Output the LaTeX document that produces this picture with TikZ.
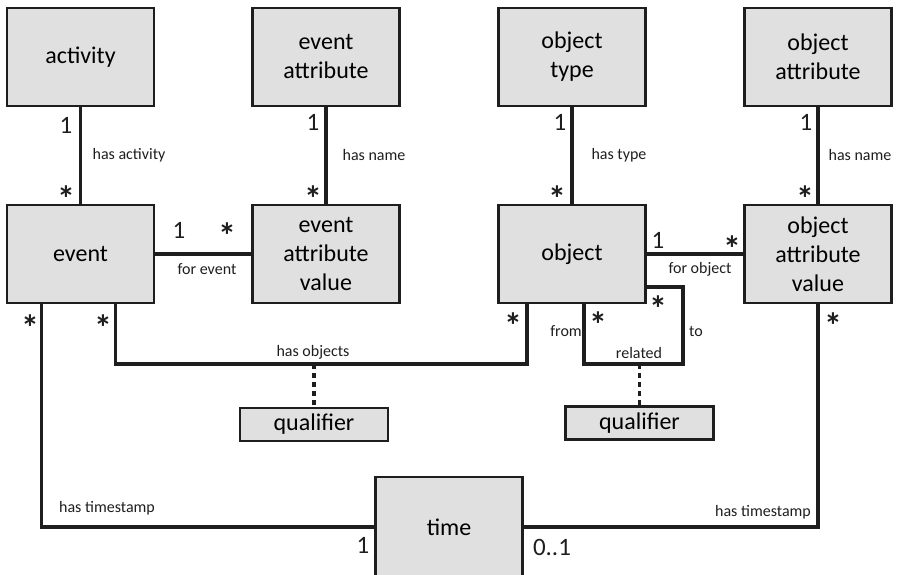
\documentclass[tikz,border=0pt]{standalone}
\usepackage{fontspec}
\setmainfont{Carlito}
\usetikzlibrary{calc}
\definecolor{boxfill}{RGB}{224,224,224}
\definecolor{edge}{RGB}{30,30,30}
\tikzset{
  entity/.style={draw=edge, fill=boxfill, line width=2.8pt, inner sep=0pt,
    minimum width=147pt, minimum height=98pt, align=center,
    font=\fontsize{24}{29}\selectfont},
  qualbox/.style={draw=edge, fill=boxfill, line width=2.8pt, inner sep=0pt,
    minimum width=148pt, minimum height=33pt, font=\fontsize{24}{29}\selectfont},
  conn/.style={draw=edge, line width=3.6pt},
  qualline/.style={draw=edge, line width=3.6pt, dash pattern=on 5pt off 4pt},
  mult/.style={inner sep=0pt, font=\fontsize{25}{30}\selectfont, text=edge},
  star/.style={inner sep=0pt, anchor=base, yshift=-19pt,
    font=\fontsize{36}{40}\selectfont\bfseries, text=edge},
  lbl/.style={inner sep=0pt, font=\fontsize{16}{19}\selectfont, text=edge}
}
\begin{document}
\begin{tikzpicture}[x=1pt,y=-1pt]
\useasboundingbox (0,0) rectangle (897,575);
% entities
\node[entity] (activity) at (80.5,57) {activity};
\node[entity] (evattr) at (326,57) {event\\attribute};
\node[entity] (otype) at (572,57) {object\\type};
\node[entity] (oattr) at (818,57) {object\\attribute};
\node[entity] (event) at (80.5,254) {event};
\node[entity] (eav) at (326,254) {event\\attribute\\value};
\node[entity] (object) at (572,254) {object};
\node[entity] (oav) at (818,254) {object\\attribute\\value};
\node[qualbox] (q1) at (314,424.5) {qualifier};
\node[qualbox] (q2) at (639.5,423) {qualifier};
\node[entity, minimum height=100pt] (time) at (449,527) {time};
% helper coordinates
\coordinate (ho) at (314,364);
\coordinate (rc) at (683,364);
\coordinate (rm) at (639.5,364);
% connectors
\draw[conn] (activity.south) -- (event.north);
\draw[conn] (evattr.south) -- (eav.north);
\draw[conn] (otype.south) -- (object.north);
\draw[conn] (oattr.south) -- (oav.north);
\draw[conn] (event.east) -- (eav.west);
\draw[conn] (object.east) -- (oav.west);
\draw[conn] ([xshift=36pt]event.south west) |- (time.west);
\draw[conn] (oav.south) |- (time.east);
\draw[conn] ([xshift=110pt]event.south west) |- (ho) -| ([xshift=30pt]object.south west);
\draw[conn] ([yshift=-33pt]object.east) -| (rc) -- (rm) -| ([xshift=87pt]object.south west);
\draw[qualline] (ho) -- (q1.north);
\draw[qualline] (rm) -- (q2.north);
% multiplicities
\node[mult] (m1) at (66,125) {1};
\node[star] (m2) at (66,192) {\smash{*}};
\node[mult] (m3) at (313,122) {1};
\node[star] (m4) at (313,192) {\smash{*}};
\node[mult] (m5) at (179,230) {1};
\node[star] (m6) at (227,229) {\smash{*}};
\node[mult] (m7) at (560,122) {1};
\node[star] (m8) at (557,192) {\smash{*}};
\node[mult] (m9) at (806,122) {1};
\node[star] (m10) at (805,192) {\smash{*}};
\node[mult] (m11) at (658,240) {1};
\node[star] (m12) at (732,242) {\smash{*}};
\node[star] (m13) at (30,321) {\smash{*}};
\node[star] (m14) at (103,321) {\smash{*}};
\node[star] (m15) at (513,319) {\smash{*}};
\node[star] (m16) at (598,318) {\smash{*}};
\node[star] (m17) at (658,302) {\smash{*}};
\node[star] (m18) at (833,319) {\smash{*}};
\node[mult] (m19) at (363,545) {1};
\node[mult] (m20) at (552,547) {0..1};
% labels
\node[lbl] (l1) at (129,155) {has activity};
\node[lbl] (l2) at (374,155) {has name};
\node[lbl] (l3) at (207,269) {for event};
\node[lbl] (l4) at (619,155) {has type};
\node[lbl] (l5) at (860,155) {has name};
\node[lbl] (l6) at (700,269) {for object};
\node[lbl] (l7) at (313,352) {has objects};
\node[lbl] (l8) at (566,331) {from};
\node[lbl] (l9) at (696,331) {to};
\node[lbl] (l10) at (639,353) {related};
\node[lbl] (l11) at (107,508) {has timestamp};
\node[lbl] (l12) at (763,512) {has timestamp};
\end{tikzpicture}
\end{document}
